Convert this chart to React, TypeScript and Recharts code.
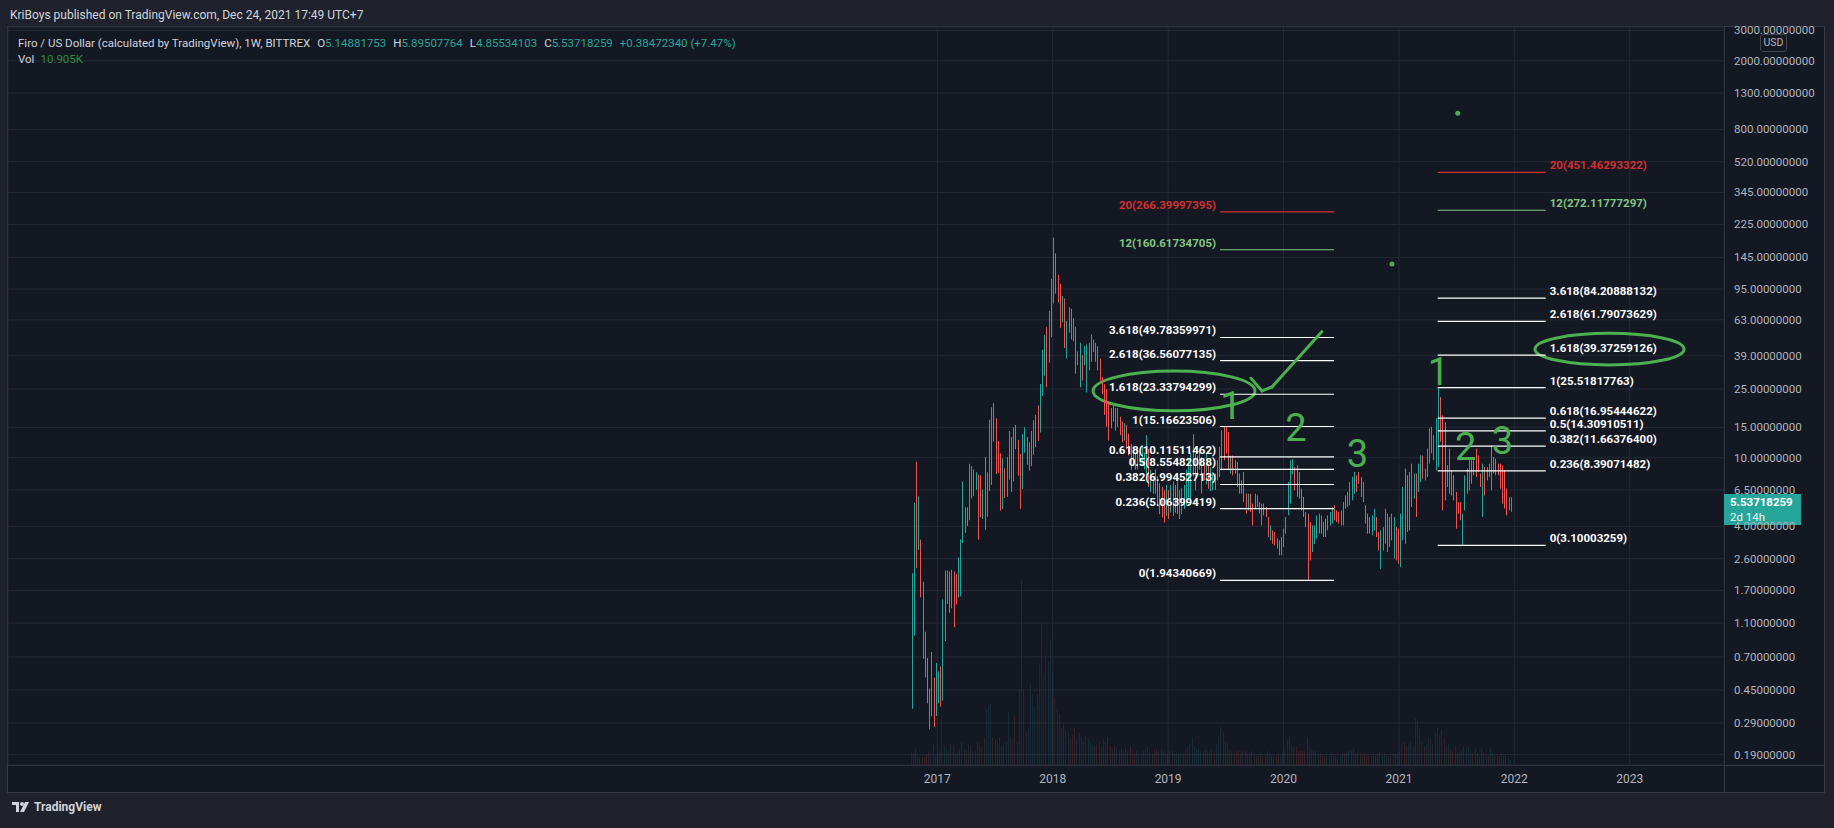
import React from "react";
import {
  ComposedChart,
  Bar,
  XAxis,
  YAxis,
  CartesianGrid,
  ReferenceLine,
  ReferenceDot,
  ReferenceArea,
} from "recharts";

// ---------------- colours ----------------
const UP = "#26a69a";
const DOWN = "#ef5350";
const ANNOT = "#4caf50";
const FIB_RED = "#d32f2f";
const FIB_GREEN = "#81c784";
const FIB_WHITE = "#ffffff";
const OUTER = "#1f222c";
const PANE = "#141823";
const GRID = "#252935";
const SEP = "#363a46";
const AXIS_TEXT = "#b2b5be";
const FONT = "Roboto, 'Noto Sans', 'DejaVu Sans', sans-serif";

// ---------------- data: weekly candles [open, high, low, close, volume(K)] ----------------
const FIRST_WEEK = "2016-10-10";

const candles2016 = [
  [0.45, 2.14, 0.35, 1.5, 30], [1.5, 5.48, 0.93, 4.8, 25], [4.8, 9.48, 2.29, 2.6, 35],
  [3.0, 5.96, 2.92, 4.4, 20], [3.3, 3.35, 1.55, 1.8, 15], [1.85, 1.91, 0.683, 0.8, 18],
  [0.95, 0.98, 0.533, 0.6, 15], [0.65, 0.69, 0.377, 0.42, 22], [0.45, 0.459, 0.266, 0.3, 30],
  [0.32, 0.748, 0.317, 0.5, 25], [0.5, 0.531, 0.275, 0.33, 45], [0.33, 0.646, 0.318, 0.55, 20],
];

const candles2017 = [
  [0.5, 0.577, 0.377, 0.56, 25], [0.58, 0.617, 0.36, 0.45, 30], [0.45, 1.51, 0.391, 1.4, 103],
  [1.3, 2.22, 0.865, 1.9, 40], [1.6, 2.22, 1.42, 2.1, 35], [2.1, 2.19, 1.26, 1.5, 30],
  [1.4, 2.24, 1.34, 2.0, 45], [2.0, 2.19, 1.04, 1.4, 40], [2.0, 2.11, 1.41, 1.6, 25],
  [1.6, 2.64, 1.55, 2.4, 30], [1.7, 3.36, 1.57, 3.2, 35], [3.3, 7.28, 3.2, 6.5, 50],
  [3.8, 5.16, 3.67, 5.0, 35], [5.0, 5.16, 4.02, 4.3, 30], [4.4, 9.22, 4.34, 8.2, 45],
  [8.5, 8.94, 5.8, 6.2, 40], [6.1, 8.54, 5.98, 8.0, 30], [6.6, 8.23, 6.49, 7.9, 30],
  [7.9, 7.97, 3.35, 4.0, 50], [7.5, 7.9, 4.51, 5.0, 45], [4.5, 6.55, 4.41, 6.3, 40],
  [9.5, 10.1, 3.82, 4.5, 60], [4.7, 8.23, 4.55, 7.8, 120], [6.5, 16.6, 6.4, 15.0, 129],
  [7.5, 19.6, 6.95, 18.5, 133], [20, 20.7, 12.4, 13, 60], [16, 16.9, 8.05, 9, 55],
  [12, 12.5, 8.17, 8.5, 50], [10, 10.6, 4.93, 5.5, 60], [5.2, 9.93, 5.05, 9.5, 40],
  [8.5, 8.69, 5.85, 6.2, 45], [6.0, 10.1, 5.93, 9.6, 50], [7.6, 14.3, 7.45, 13.5, 114],
  [13, 13.2, 6.34, 7.0, 60], [7.5, 15.0, 7.28, 14.5, 55], [15, 15.5, 11.2, 11.5, 107],
  [12.5, 12.7, 7.87, 8.5, 50], [10, 10.5, 5.05, 5.5, 163], [6.8, 13.7, 6.58, 13.2, 400],
  [11, 15.0, 10.7, 14.5, 163], [13, 13.2, 9.1, 9.5, 70], [8.6, 12.3, 8.42, 12, 80],
  [9.2, 14.3, 8.94, 14, 174], [10.6, 16.5, 10.4, 16, 153], [11.8, 17.7, 11.5, 17.2, 127],
  [19.5, 20.1, 12.5, 13, 153], [14.5, 26.7, 14.0, 26, 219], [23.5, 42.3, 22.8, 41, 303],
  [31, 51.4, 29.9, 50, 198], [55, 57.1, 25.6, 27, 237], [37, 70.8, 35.5, 68, 222],
  [52, 109, 50.2, 105, 271],
];

const candles2018 = [
  [80, 189, 78.3, 180, 198], [150, 153, 89.4, 92, 146], [112, 115, 79.4, 82, 120],
  [100, 102, 56.6, 58, 110], [63, 86.5, 61, 84, 80], [82, 83.8, 43.2, 45, 90],
  [40, 62.2, 37.6, 60, 75], [56, 74.4, 53.1, 72, 70], [71, 73.1, 48.4, 52, 60],
  [60, 64.3, 47.3, 50, 65], [55, 57.4, 30.7, 33, 80], [35, 41.3, 34.4, 40, 55],
  [30, 46.4, 25.6, 44, 70], [38, 39.4, 28, 30, 60], [35, 44.3, 34.4, 43, 50],
  [26, 45.3, 23.9, 43, 65], [34, 46.4, 32.1, 45, 55], [38, 51.9, 36, 50, 50],
  [42, 48.4, 41, 47, 45], [45, 46.4, 36, 38, 40], [43, 44.3, 32.1, 34, 45],
  [36, 37.6, 28, 29, 50], [29, 29.3, 23.3, 24, 40], [26, 26.7, 17.7, 18.5, 55],
  [24, 25, 15.1, 16, 50], [20, 20.8, 12.6, 13.2, 60], [19, 19.4, 14.8, 15.2, 40],
  [16.5, 20.8, 16.2, 20, 35], [19, 19.4, 14.4, 15, 40], [15.5, 19.4, 15.1, 19, 35],
  [17, 17.3, 13.5, 14, 30], [16, 16.2, 12.3, 12.8, 35], [13, 15.9, 12.6, 15.5, 30],
  [15, 15.5, 11.2, 11.6, 35], [13.5, 13.8, 10.3, 10.6, 30], [11.8, 12, 8.54, 8.9, 40],
  [11, 11.2, 8.94, 9.2, 30], [10.3, 10.5, 8.54, 8.8, 25], [8.8, 11.2, 8.54, 11, 30],
  [9.8, 11.2, 9.57, 11, 25], [9.2, 11.7, 8.94, 11.5, 25], [8.8, 10.7, 8.54, 10.5, 30],
  [8, 13.5, 7.79, 13, 35], [11, 11.2, 6.79, 7, 40], [6.5, 8.54, 6.34, 8.3, 30],
  [6.4, 7.79, 6.19, 7.6, 25], [8.3, 8.54, 6.19, 6.4, 30], [7.6, 7.79, 5.28, 5.5, 35],
  [4.9, 7.11, 4.71, 7, 30], [6.6, 6.79, 4.51, 4.7, 35], [6.3, 6.49, 4.21, 4.4, 30],
  [4.8, 6.95, 4.6, 6.8, 25], [6.3, 6.49, 4.41, 4.6, 25],
];

const candles2019 = [
  [5, 6.95, 4.81, 6.8, 30], [4.8, 7.28, 4.6, 7.1, 30], [6.8, 6.95, 4.81, 5, 25],
  [4.9, 7.28, 4.71, 7.1, 30], [4.6, 6.49, 4.41, 6.3, 25], [4.9, 6.64, 4.71, 6.5, 25],
  [5.2, 6.95, 5.05, 6.8, 25], [5.5, 8.54, 5.28, 8.3, 35], [5.9, 9.78, 5.66, 9.5, 40],
  [5.9, 10.7, 5.66, 10.4, 45], [8, 13.7, 7.79, 13.2, 60], [6.8, 10.5, 6.49, 10.2, 40],
  [8, 10.3, 7.79, 10, 35], [8.8, 11.2, 8.54, 11, 35], [6.4, 10.1, 6.19, 9.8, 30],
  [9.1, 9.25, 7.4, 7.6, 30], [7.2, 10.5, 7.0, 10.2, 35], [9.1, 9.25, 6.6, 6.9, 30],
  [6.6, 8.8, 6.4, 8.5, 30], [6.6, 8.1, 6.47, 7.9, 35], [7.9, 8.1, 6.5, 6.7, 30],
  [7.5, 9.67, 7.38, 9.4, 45], [7.9, 11.55, 7.73, 11.2, 60], [9, 14.4, 8.45, 14, 82],
  [15, 15.17, 9.67, 12, 70], [14.8, 15.1, 10.6, 11, 50], [13.8, 14.1, 8.45, 9, 45],
  [8.3, 10.3, 8.09, 10, 35], [10, 10.3, 7.9, 8.2, 30], [9.5, 9.67, 8.09, 8.3, 25],
  [9.3, 9.45, 6.77, 7, 30], [8, 8.09, 6.19, 6.4, 30], [6.3, 7.39, 6.19, 7.2, 25],
  [8.1, 8.27, 5.53, 5.8, 30], [6.1, 6.19, 4.74, 5, 30], [5.1, 6.19, 4.95, 6, 25],
  [6, 6.19, 4.85, 5, 25], [5.3, 5.42, 4.05, 4.2, 30], [5.1, 6.19, 5.07, 6, 25],
  [5.9, 6.05, 5.18, 5.3, 20], [5.4, 5.53, 4.74, 4.9, 20], [4.2, 5.42, 4.05, 5.3, 25],
  [5.3, 5.42, 4.63, 4.8, 20], [5.1, 5.18, 4.53, 4.6, 20], [4.5, 4.53, 3.47, 3.6, 30],
  [3.4, 4.05, 3.32, 3.9, 25], [3.7, 3.79, 3.17, 3.25, 20], [3.6, 3.71, 3.1, 3.15, 20],
  [3.35, 3.4, 2.97, 3.0, 20], [3.3, 3.32, 2.72, 2.8, 25], [2.8, 3.47, 2.72, 3.4, 20],
  [3.2, 3.88, 3.04, 3.8, 25],
];

const candles2020 = [
  [3.7, 4.53, 3.63, 4.4, 30], [4.7, 7.23, 4.63, 7.0, 55], [6.8, 9.67, 5.42, 9.3, 60],
  [8.3, 9.8, 8.0, 9.5, 45], [8.7, 8.83, 6.47, 6.8, 40], [8.9, 9.04, 5.93, 6.2, 40],
  [8.1, 8.27, 5.8, 6.0, 30], [6.5, 6.62, 4.95, 5.1, 30], [5.8, 5.92, 4.53, 4.7, 30],
  [4.7, 4.85, 3.96, 4.1, 30], [4.6, 4.74, 1.943, 2.4, 60], [4.1, 4.24, 2.54, 2.7, 40],
  [2.9, 4.05, 2.84, 3.9, 35], [3.3, 4.05, 3.17, 3.9, 30], [3.5, 4.63, 3.4, 4.5, 30],
  [3.7, 4.74, 3.63, 4.6, 25], [4.5, 4.63, 3.63, 3.8, 25], [4.1, 4.24, 3.47, 3.6, 20],
  [4.3, 4.44, 3.47, 3.6, 20], [3.9, 4.63, 3.79, 4.5, 20], [4.1, 4.85, 4.05, 4.7, 20],
  [4.3, 5.18, 4.15, 5.0, 25], [5.2, 5.3, 4.34, 4.5, 20], [4.9, 4.95, 4.24, 4.4, 20],
  [4.8, 4.85, 4.15, 4.3, 15], [4.2, 4.95, 4.05, 4.9, 20], [4.2, 5.53, 4.05, 5.4, 25],
  [5.9, 6.05, 5.07, 5.2, 25], [5.3, 6.33, 5.18, 6.2, 25], [5.5, 7.23, 5.3, 7.0, 30],
  [5.8, 7.73, 5.66, 7.5, 30], [6.4, 8.27, 6.19, 8.0, 35], [7.8, 7.91, 6.33, 6.5, 25],
  [8.1, 8.27, 7.06, 7.2, 25], [7.6, 7.73, 5.92, 6.1, 25], [5.7, 7.23, 5.53, 7.0, 20],
  [5.2, 5.3, 4.15, 4.3, 25], [4.6, 4.74, 3.63, 3.8, 20], [4.4, 4.53, 3.63, 3.7, 20],
  [3.7, 4.63, 3.55, 4.5, 20], [3.9, 5.07, 3.79, 4.9, 20], [4.4, 4.53, 3.47, 3.6, 20],
  [3.6, 3.71, 2.9, 3.0, 25], [2.9, 3.79, 2.27, 3.7, 30], [3.0, 3.96, 2.9, 3.9, 20],
  [3.3, 5.07, 3.17, 4.9, 25], [3.0, 4.74, 2.84, 4.6, 20], [4.4, 4.53, 3.04, 3.2, 20],
  [3.4, 4.74, 3.32, 4.6, 20], [2.7, 4.53, 2.6, 4.4, 25], [3.9, 3.96, 2.54, 2.6, 25],
  [3.8, 3.88, 2.43, 2.5, 25],
];

const candles2021 = [
  [2.4, 4.74, 2.32, 4.6, 30], [3.5, 6.77, 3.32, 6.5, 45], [8.4, 8.65, 3.17, 3.5, 50],
  [7.8, 7.91, 3.71, 4.0, 40], [4.0, 8.27, 3.79, 8.0, 45], [5.4, 9.24, 5.18, 9.0, 50],
  [6.0, 8.09, 5.8, 7.9, 40], [7.9, 8.09, 4.53, 4.8, 100], [6.5, 9.24, 6.33, 9.0, 95],
  [7.5, 10.3, 7.23, 10.0, 80], [10.1, 10.3, 7.56, 7.8, 50], [8.5, 8.65, 7.39, 7.5, 40],
  [8.0, 11.3, 7.73, 11.0, 45], [9.5, 14.8, 9.24, 14.3, 60], [14.8, 15.1, 10.6, 11, 55],
  [10, 13.5, 9.67, 13.2, 45], [9, 16.9, 8.45, 16.5, 70], [13, 25.5, 8.83, 18, 80],
  [20, 22.5, 12.4, 13, 65], [17, 17.6, 4.95, 6.0, 75], [15.5, 16.1, 5.66, 6.2, 60],
  [7, 9.04, 6.77, 8.8, 40], [6.5, 11.3, 6.19, 11, 45], [8.3, 8.45, 6.05, 6.3, 35],
  [7.7, 7.91, 5.66, 5.9, 30], [6.2, 6.33, 3.88, 4.1, 40], [5.4, 5.53, 4.74, 4.9, 25],
  [5.4, 5.53, 4.34, 4.5, 25], [3.3, 4.74, 3.1, 4.6, 30], [5.1, 7.91, 4.95, 7.7, 40],
  [6.4, 8.65, 6.19, 8.4, 35], [6.7, 9.67, 6.47, 9.4, 40], [7.3, 9.67, 7.06, 9.5, 30],
  [9.5, 9.67, 7.91, 8.1, 25], [11, 11.3, 7.73, 8.0, 35], [10.1, 10.3, 8.27, 8.5, 25],
  [8.0, 8.09, 6.77, 6.9, 20], [4.8, 9.24, 4.53, 9.0, 35], [8.7, 8.83, 6.05, 6.3, 25],
  [7.5, 8.83, 7.39, 8.7, 20], [9.1, 9.24, 7.73, 7.9, 20], [6.7, 11.8, 6.47, 11.5, 35],
  [8.3, 10.1, 8.09, 9.9, 25], [9.7, 9.89, 7.91, 8.1, 20], [9.1, 9.24, 7.91, 8.0, 20],
  [9.1, 9.24, 6.62, 6.9, 20], [8.9, 9.04, 5.42, 5.7, 25], [8.3, 8.45, 5.07, 5.3, 20],
  [6.5, 6.62, 4.63, 4.8, 20], [5.0, 5.92, 4.95, 5.8, 15],
  [5.14881753, 5.89507764, 4.85534103, 5.53718259, 10.905],
];

// ---------------- axes ----------------
const priceTicks = [3000, 2000, 1300, 800, 520, 345, 225, 145, 95, 63, 39, 25, 15, 10, 6.5, 4, 2.6, 1.7, 1.1, 0.7, 0.45, 0.29, 0.19];
const priceDomain = [0.1654, 3141];
const yearTicks = [2017, 2018, 2019, 2020, 2021, 2022, 2023];
const timeDomain = [2008.947, 2023.817];
const volumeDomain = [0, 1590];

// ---------------- drawings ----------------
const leftFibLevels = [
  { ratio: "20", price: 266.39997395, color: FIB_RED },
  { ratio: "12", price: 160.61734705, color: FIB_GREEN },
  { ratio: "3.618", price: 49.78359971, color: FIB_WHITE },
  { ratio: "2.618", price: 36.56077135, color: FIB_WHITE },
  { ratio: "1.618", price: 23.33794299, color: FIB_WHITE },
  { ratio: "1", price: 15.16623506, color: FIB_WHITE },
  { ratio: "0.618", price: 10.11511462, color: FIB_WHITE },
  { ratio: "0.5", price: 8.55482088, color: FIB_WHITE },
  { ratio: "0.382", price: 6.99452713, color: FIB_WHITE },
  { ratio: "0.236", price: 5.06399419, color: FIB_WHITE },
  { ratio: "0", price: 1.94340669, color: FIB_WHITE },
];
const leftFibSpan = [2019.45, 2020.438];

const rightFibLevels = [
  { ratio: "20", price: 451.46293322, color: FIB_RED },
  { ratio: "12", price: 272.11777297, color: FIB_GREEN },
  { ratio: "3.618", price: 84.20888132, color: FIB_WHITE },
  { ratio: "2.618", price: 61.79073629, color: FIB_WHITE },
  { ratio: "1.618", price: 39.37259126, color: FIB_WHITE },
  { ratio: "1", price: 25.51817763, color: FIB_WHITE },
  { ratio: "0.618", price: 16.95444622, color: FIB_WHITE },
  { ratio: "0.5", price: 14.30910511, color: FIB_WHITE },
  { ratio: "0.382", price: 11.663764, color: FIB_WHITE },
  { ratio: "0.236", price: 8.39071482, color: FIB_WHITE },
  { ratio: "0", price: 3.10003259, color: FIB_WHITE },
];
const rightFibSpan = [2021.336, 2022.272];

const waveLabels = [
  { text: "1", t: 2019.545, price: 19.9 },
  { text: "2", t: 2020.108, price: 14.9 },
  { text: "3", t: 2020.641, price: 10.5 },
  { text: "1", t: 2021.343, price: 31.4 },
  { text: "2", t: 2021.578, price: 11.5 },
  { text: "3", t: 2021.897, price: 12.5 },
];
const ellipses = [
  { t1: 2018.35, t2: 2019.753, p1: 18.7, p2: 31.8 },
  { t1: 2022.179, t2: 2023.471, p1: 34.5, p2: 52.6 },
];
const checkMark = [
  { t: 2019.718, price: 28.9 },
  { t: 2019.814, price: 24.4 },
  { t: 2019.9, price: 25.7 },
  { t: 2020.331, price: 53.8 },
];
const anchorDots = [
  { t: 2021.51, price: 992 },
  { t: 2020.94, price: 132.7 },
];

const headerChange = "+0.38472340 (+7.47%)";
const headerVolume = "10.905K";
const barCountdown = "2d 14h";

// ---------------- build chart rows ----------------
const allCandles = [...candles2016, ...candles2017, ...candles2018, ...candles2019, ...candles2020, ...candles2021];
const firstWeekMs = Date.parse(FIRST_WEEK + "T00:00:00Z");
const toYearFraction = (ms: number) => {
  const d = new Date(ms);
  const y = d.getUTCFullYear();
  const s = Date.UTC(y, 0, 1);
  const e = Date.UTC(y + 1, 0, 1);
  return y + (ms - s) / (e - s);
};
const chartData = allCandles.map(([o, h, l, c, v], i) => ({
  t: toYearFraction(firstWeekMs + i * 7 * 86400000),
  range: [l, h],
  vol: v,
  up: c >= o,
}));
const last = allCandles[allCandles.length - 1];

// ---------------- shapes ----------------
const CandleShape = (p: any) => {
  const { x, y, width, height, payload } = p;
  if (x == null || y == null || !isFinite(height)) return null;
  const cx = Math.round(x + width / 2);
  return <rect x={cx} y={y} width={1} height={Math.max(1, height)} fill={payload.up ? UP : DOWN} />;
};
const VolumeShape = (p: any) => {
  const { x, y, width, height, payload } = p;
  if (x == null || y == null || !isFinite(height) || height <= 0) return null;
  const cx = Math.round(x + width / 2);
  return <rect x={cx} y={y} width={1} height={height} fill={payload.up ? UP : DOWN} fillOpacity={0.14} />;
};

const PriceTick = (p: any) => (
  <text x={p.x} y={p.y} dy={4} fill={AXIS_TEXT} fontSize={11.5} textAnchor="start" fontFamily={FONT}>
    {Number(p.payload.value).toFixed(8)}
  </text>
);
const YearTick = (p: any) => (
  <text x={p.x} y={p.y} dy={18} fill={AXIS_TEXT} fontSize={12} textAnchor="middle" fontFamily={FONT}>
    {p.payload.value}
  </text>
);

const fibText = (text: string, color: string, anchor: "start" | "end") => (p: any) =>
  (
    <text
      x={anchor === "end" ? p.cx - 4 : p.cx + 4}
      y={p.cy - 7}
      textAnchor={anchor}
      dominantBaseline="central"
      fill={color}
      fontSize={11.5}
      fontWeight={700}
      fontFamily={FONT}
    >
      {text}
    </text>
  );

const waveText = (text: string) => (p: any) =>
  (
    <text x={p.cx} y={p.cy} textAnchor="middle" dominantBaseline="central" fill={ANNOT} fontSize={38} fontFamily={FONT}>
      {text}
    </text>
  );

const EllipseShape = (p: any) => (
  <ellipse
    cx={p.x + p.width / 2}
    cy={p.y + p.height / 2}
    rx={Math.abs(p.width) / 2}
    ry={Math.abs(p.height) / 2}
    fill="none"
    stroke={ANNOT}
    strokeWidth={3}
  />
);

const PriceTag = (p: any) => (
  <g>
    <rect x={p.cx} y={p.cy - 8} width={77} height={31} fill={UP} />
    <text x={p.cx + 6} y={p.cy} dominantBaseline="central" fill="#ffffff" fontSize={11.5} fontWeight={700} fontFamily={FONT}>
      {last[3].toFixed(8)}
    </text>
    <text x={p.cx + 6} y={p.cy + 15} dominantBaseline="central" fill="#e8f5f3" fontSize={11.5} fontFamily={FONT}>
      {barCountdown}
    </text>
  </g>
);

const renderFib = (levels: typeof leftFibLevels, span: number[], side: "left" | "right") =>
  levels.map((lv, i) => [
    <ReferenceLine
      key={`${side}-l-${i}`}
      yAxisId="price"
      segment={[
        { x: span[0], y: lv.price },
        { x: span[1], y: lv.price },
      ]}
      stroke={lv.color}
      strokeWidth={1.2}
      ifOverflow="visible"
    />,
    <ReferenceDot
      key={`${side}-t-${i}`}
      yAxisId="price"
      x={side === "left" ? span[0] : span[1]}
      y={lv.price}
      r={0}
      ifOverflow="visible"
      shape={fibText(`${lv.ratio}(${lv.price.toFixed(8)})`, lv.color, side === "left" ? "end" : "start")}
    />,
  ]);

export default function App() {
  const W = 1834;
  const H = 828;
  return (
    <div style={{ position: "relative", width: W, height: H, background: OUTER, overflow: "hidden", fontFamily: FONT }}>
      <style>{`html,body{margin:0;padding:0;background:${OUTER};}`}</style>
      {/* chart pane */}
      <div style={{ position: "absolute", left: 7, top: 26, width: 1818, height: 767, background: PANE, boxSizing: "border-box", border: `1px solid ${SEP}` }} />
      <div style={{ position: "absolute", left: 1724, top: 27, width: 1, height: 765, background: SEP }} />
      <div style={{ position: "absolute", left: 8, top: 765, width: 1816, height: 1, background: SEP }} />

      <div style={{ position: "absolute", left: 0, top: 0 }}>
        <ComposedChart
          width={W}
          height={H}
          data={chartData}
          margin={{ top: 27, right: 10, bottom: 36, left: 8 }}
          barGap={0}
          barCategoryGap={0}
        >
          <CartesianGrid yAxisId="price" stroke={GRID} strokeWidth={1} />
          <XAxis
            type="number"
            dataKey="t"
            scale="linear"
            domain={timeDomain}
            ticks={yearTicks}
            interval={0}
            allowDataOverflow
            height={27}
            tickLine={false}
            axisLine={false}
            tickSize={0}
            tickMargin={0}
            tick={<YearTick />}
          />
          <YAxis
            yAxisId="price"
            orientation="right"
            scale="log"
            domain={priceDomain}
            ticks={priceTicks}
            interval={0}
            allowDataOverflow
            width={100}
            tickLine={false}
            axisLine={false}
            tickSize={0}
            tickMargin={10}
            tick={<PriceTick />}
          />
          <YAxis yAxisId="vol" hide domain={volumeDomain} allowDataOverflow />
          <Bar yAxisId="vol" dataKey="vol" barSize={1} isAnimationActive={false} shape={<VolumeShape />} />
          <Bar yAxisId="price" dataKey="range" barSize={1} isAnimationActive={false} shape={<CandleShape />} />

          {renderFib(leftFibLevels, leftFibSpan, "left")}
          {renderFib(rightFibLevels, rightFibSpan, "right")}

          {ellipses.map((e, i) => (
            <ReferenceArea
              key={`el-${i}`}
              yAxisId="price"
              x1={e.t1}
              x2={e.t2}
              y1={e.p1}
              y2={e.p2}
              ifOverflow="visible"
              shape={<EllipseShape />}
            />
          ))}
          {checkMark.slice(1).map((pt, i) => (
            <ReferenceLine
              key={`ck-${i}`}
              yAxisId="price"
              segment={[
                { x: checkMark[i].t, y: checkMark[i].price },
                { x: pt.t, y: pt.price },
              ]}
              stroke={ANNOT}
              strokeWidth={3}
              strokeLinecap="round"
              ifOverflow="visible"
            />
          ))}
          {waveLabels.map((w, i) => (
            <ReferenceDot key={`wv-${i}`} yAxisId="price" x={w.t} y={w.price} r={0} ifOverflow="visible" shape={waveText(w.text)} />
          ))}
          {anchorDots.map((d, i) => (
            <ReferenceDot key={`ad-${i}`} yAxisId="price" x={d.t} y={d.price} r={2.5} fill={ANNOT} stroke="none" ifOverflow="visible" />
          ))}
          <ReferenceDot yAxisId="price" x={timeDomain[1]} y={last[3]} r={0} ifOverflow="visible" shape={<PriceTag />} />
        </ComposedChart>
      </div>

      {/* area above the pane */}
      <div style={{ position: "absolute", left: 0, top: 0, width: W, height: 26, background: OUTER }} />
      <div style={{ position: "absolute", left: 10, top: 7, fontSize: 12, color: "#d1d4dc", whiteSpace: "pre", lineHeight: "16px" }}>
        KriBoys published on TradingView.com, Dec 24, 2021 17:49 UTC+7
      </div>
      {/* USD badge */}
      <div
        style={{
          position: "absolute",
          left: 1760,
          top: 34,
          width: 27,
          height: 18,
          boxSizing: "border-box",
          border: "1px solid #434651",
          borderRadius: 3,
          background: PANE,
          color: AXIS_TEXT,
          fontSize: 10.5,
          lineHeight: "16px",
          textAlign: "center",
        }}
      >
        USD
      </div>

      {/* legend */}
      <div style={{ position: "absolute", left: 18, top: 35, fontSize: 11.5, color: "#d1d4dc", whiteSpace: "pre", lineHeight: "16px" }}>
        <span>Firo / US Dollar (calculated by TradingView), 1W, BITTREX</span>
        <span style={{ marginLeft: 7 }}>O</span>
        <span style={{ color: UP }}>{last[0].toFixed(8)}</span>
        <span style={{ marginLeft: 7 }}>H</span>
        <span style={{ color: UP }}>{last[1].toFixed(8)}</span>
        <span style={{ marginLeft: 7 }}>L</span>
        <span style={{ color: UP }}>{last[2].toFixed(8)}</span>
        <span style={{ marginLeft: 7 }}>C</span>
        <span style={{ color: UP }}>{last[3].toFixed(8)}</span>
        <span style={{ color: UP, marginLeft: 7 }}>{headerChange}</span>
      </div>
      <div style={{ position: "absolute", left: 18, top: 51, fontSize: 11.5, color: "#d1d4dc", whiteSpace: "pre", lineHeight: "16px" }}>
        <span>Vol</span>
        <span style={{ color: "#2e8b3a", marginLeft: 6 }}>{headerVolume}</span>
      </div>

      {/* footer logo */}
      <div style={{ position: "absolute", left: 12, top: 800, display: "flex", alignItems: "center", gap: 4 }}>
        <svg width={18} height={14} viewBox="0 0 36 28">
          <path d="M0 4h14v20H8V10H0z" fill="#d1d4dc" />
          <circle cx={20} cy={8} r={4} fill="#d1d4dc" />
          <path d="M26 4h8l-10 20h-8z" fill="#d1d4dc" />
        </svg>
        <span style={{ color: "#d1d4dc", fontSize: 12, fontWeight: 700 }}>TradingView</span>
      </div>
    </div>
  );
}
